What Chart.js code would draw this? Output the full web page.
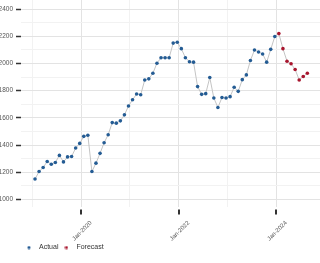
<!DOCTYPE html>
<html>
<head>
<meta charset="utf-8">
<script src="https://cdn.jsdelivr.net/npm/chart.js@4.4.0/dist/chart.umd.min.js"></script>
<style>
  html, body { margin: 0; padding: 0; background: #fff; }
  #wrap { width: 320px; height: 263px; }
</style>
</head>
<body>
<div id="wrap"><canvas id="mycanvas"></canvas></div>
<script>
// monthly values, Jan-2019 .. Dec-2023
var actualValues = [
    1150, 1205, 1235, 1279, 1259, 1272, 1324, 1276, 1313, 1316, 1378, 1412,
    1464, 1472, 1205, 1267, 1339, 1417, 1476, 1565, 1561, 1578, 1622, 1687,
    1733, 1776, 1770, 1879, 1887, 1928, 2002, 2042, 2042, 2042, 2150, 2156,
    2109, 2042, 2013, 2010, 1830, 1773, 1778, 1897, 1746, 1676, 1750, 1746,
    1756, 1825, 1795, 1881, 1916, 2022, 2099, 2084, 2070, 2010, 2104, 2198
];
// Jan-2024 .. Aug-2024
var forecastValues = [2220, 2109, 2017, 1998, 1956, 1879, 1904, 1928];

var startYear = 2019;
var yearTicks = ['Jan-2020', 'Jan-2022', 'Jan-2024'];

var monthNames = ['Jan','Feb','Mar','Apr','May','Jun','Jul','Aug','Sep','Oct','Nov','Dec'];

var actualColor = '#245c94';
var forecastColor = '#a8162e';

function monthX(i) {
    // points sit a little after the first of the month
    return i + 0.68;
}

var actualData = [];
for (var i = 0; i < actualValues.length; i++) {
    actualData.push({x: monthX(i), y: actualValues[i]});
}
var n = actualValues.length;
// forecast line starts from the last actual point so the line is continuous
var forecastData = [{x: monthX(n - 1), y: actualValues[n - 1]}];
var forecastRadius = [0];
for (var j = 0; j < forecastValues.length; j++) {
    forecastData.push({x: monthX(n + j), y: forecastValues[j]});
    forecastRadius.push(1.8);
}

function labelFor(v) {
    var yr = startYear + Math.round(v / 12);
    return monthNames[0] + '-' + yr;
}

// small dot used as the legend symbol
function dot(color) {
    var c = document.createElement('canvas');
    c.width = 4;
    c.height = 4;
    var g = c.getContext('2d');
    g.fillStyle = color;
    g.beginPath();
    g.arc(2, 2, 1.6, 0, Math.PI * 2);
    g.fill();
    return c;
}
var legendDots = [dot(actualColor), dot(forecastColor)];

var xTickMarks = {
    id: 'xTickMarks',
    afterDraw: function(chart) {
        var ctx = chart.ctx;
        var sx = chart.scales.x;
        var b = chart.chartArea.bottom;
        ctx.save();
        ctx.strokeStyle = '#333';
        ctx.lineWidth = 2;
        sx.ticks.forEach(function(t) {
            if (yearTicks.indexOf(labelFor(t.value)) < 0) return;
            var px = Math.round(sx.getPixelForValue(t.value));
            ctx.beginPath();
            ctx.moveTo(px, b + 3);
            ctx.lineTo(px, b + 8);
            ctx.stroke();
        });
        ctx.restore();
    }
};

var ctx = document.getElementById('mycanvas');

var lineChart = new Chart(ctx, {
    type: 'line',
    data: {
        datasets: [
            {
                label: 'Actual',
                data: actualData,
                borderColor: '#c4c4c4',
                borderWidth: 1,
                backgroundColor: actualColor,
                pointBackgroundColor: actualColor,
                pointBorderWidth: 0,
                pointRadius: 1.8,
                tension: 0
            },
            {
                label: 'Forecast',
                data: forecastData,
                borderColor: '#c4c4c4',
                borderWidth: 1,
                backgroundColor: forecastColor,
                pointBackgroundColor: forecastColor,
                pointBorderWidth: 0,
                pointRadius: forecastRadius,
                tension: 0
            }
        ]
    },
    options: {
        responsive: true,
        maintainAspectRatio: false,
        animation: false,
        layout: { autoPadding: false, padding: { left: 0, right: 0, top: 0, bottom: 2 } },
        plugins: {
            tooltip: { enabled: false },
            legend: {
                position: 'bottom',
                align: 'start',
                fullSize: false,
                labels: {
                    usePointStyle: true,
                    pointStyleWidth: 13,
                    boxHeight: 4,
                    padding: 1.5,
                    color: '#333',
                    font: { family: 'Liberation Sans', size: 7 },
                    generateLabels: function(chart) {
                        var items = Chart.defaults.plugins.legend.labels.generateLabels(chart);
                        items.forEach(function(it, k) { it.pointStyle = legendDots[k]; });
                        return items;
                    }
                }
            }
        },
        scales: {
            x: {
                type: 'linear',
                min: -2.77,
                max: 70.8,
                afterFit: function(scale) {
                    scale.height = 36;
                    scale.paddingLeft = 0;
                    scale.paddingRight = 0;
                },
                border: { display: false },
                grid: {
                    drawTicks: false,
                    color: function(c) {
                        var v = c.tick ? c.tick.value : 0;
                        return (Math.round(v / 12) % 2 === 1) ? '#e3e3e3' : '#f2f2f2';
                    },
                    lineWidth: 1
                },
                ticks: {
                    stepSize: 12,
                    includeBounds: false,
                    autoSkip: false,
                    minRotation: 45,
                    maxRotation: 45,
                    padding: 13,
                    labelOffset: 10,
                    color: '#555',
                    font: { family: 'Liberation Sans', size: 6 },
                    callback: function(v) {
                        var l = labelFor(v);
                        return yearTicks.indexOf(l) >= 0 ? l : '';
                    }
                }
            },
            y: {
                min: 948,
                max: 2467,
                afterFit: function(scale) {
                    scale.width = 21;
                    scale.paddingTop = 0;
                    scale.paddingBottom = 0;
                },
                border: { display: false },
                grid: {
                    color: function(c) {
                        var v = c.tick ? c.tick.value : 0;
                        return v % 200 === 0 ? '#e3e3e3' : '#f2f2f2';
                    },
                    tickColor: function(c) {
                        var v = c.tick ? c.tick.value : 0;
                        return v % 200 === 0 ? '#333' : 'rgba(0,0,0,0)';
                    },
                    tickLength: 5,
                    tickWidth: 1.5,
                    lineWidth: 1
                },
                ticks: {
                    stepSize: 100,
                    includeBounds: false,
                    autoSkip: false,
                    padding: 3,
                    color: '#555',
                    font: { family: 'Liberation Sans', size: 6.5 },
                    callback: function(v) {
                        return v % 200 === 0 ? v : '';
                    }
                }
            }
        }
    },
    plugins: [xTickMarks]
});
</script>
</body>
</html>
